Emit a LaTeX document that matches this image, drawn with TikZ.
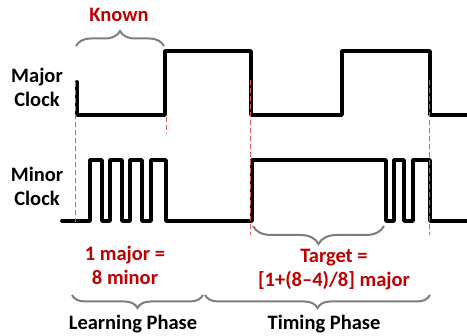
\documentclass[tikz,border=0pt]{standalone}
\usepackage{fontspec}
\setmainfont{Carlito}
\usetikzlibrary{decorations.pathreplacing}
\definecolor{accent}{RGB}{192,0,0}
\definecolor{guide}{RGB}{222,92,92}
\definecolor{bracegray}{RGB}{125,125,125}
\tikzset{
  signal/.style={line width=3.8pt, line join=round, line cap=round, black},
  guideline/.style={guide, line width=1pt, dash pattern=on 5pt off 3pt},
  phasebrace/.style={bracegray, line width=2pt, decorate,
    decoration={brace, amplitude=#1, aspect=0.5}},
  label/.style={font=\fontsize{20.5}{24.5}\selectfont\bfseries, inner sep=0pt, align=center, anchor=base},
  redlabel/.style={label, text=accent}
}
\begin{document}
\begin{tikzpicture}[x=1pt, y=-1pt]
\useasboundingbox (0,0) rectangle (467,336);

% major clock waveform
\draw[signal] (77,82) -- (77,115) -- (165,115) -- (165,51) -- (251,51) -- (251,115)
  -- (342,115) -- (342,51) -- (430,51) -- (430,115) -- (470,115);

% minor clock waveform
\draw[signal] (62,221) -- (90,221) -- (90,160) -- (102,160) -- (102,221)
  -- (110,221) -- (110,160) -- (122,160) -- (122,221)
  -- (130,221) -- (130,160) -- (142,160) -- (142,221)
  -- (151,221) -- (151,160) -- (166,160) -- (166,221)
  -- (252,221) -- (252,160) -- (386,160) -- (386,221)
  -- (394,221) -- (394,160) -- (404,160) -- (404,221)
  -- (413,221) -- (413,160) -- (430,160) -- (430,221) -- (470,221);

% alignment guides
\coordinate (g1a) at (75,82);   \coordinate (g1b) at (75,222);
\coordinate (g2a) at (166,117); \coordinate (g2b) at (166,134);
\coordinate (g3a) at (250,80);  \coordinate (g3b) at (250,235);
\coordinate (g4a) at (429,80);  \coordinate (g4b) at (429,235);
\draw[guideline] (g1a) -- (g1b);
\draw[guideline] (g2a) -- (g2b);
\draw[guideline] (g3a) -- (g3b);
\draw[guideline] (g4a) -- (g4b);

% braces
\coordinate (kn1) at (76,46);   \coordinate (kn2) at (164,46);
\coordinate (tg1) at (384,226); \coordinate (tg2) at (253,226);
\coordinate (lp1) at (203,295); \coordinate (lp2) at (72,295);
\coordinate (tp1) at (430,295); \coordinate (tp2) at (205,295);
\draw[phasebrace=15pt] (kn1) -- (kn2);
\draw[phasebrace=18pt] (tg1) -- (tg2);
\draw[phasebrace=13pt] (lp1) -- (lp2);
\draw[phasebrace=13pt] (tp1) -- (tp2);

% labels (base anchor sits on the last line of a two-line label)
\node[redlabel] (known) at (119,22) {Known};
\node[label] (major) at (37,107) {Major\\Clock};
\node[label] (minor) at (37,206) {Minor\\Clock};
\node[redlabel] (ratio) at (125,285) {1 major =\\8 minor};
\node[redlabel] (target) at (334,287) {Target =\\{[1+(8–4)/8] major}};
\node[label] (learn) at (133,330) {Learning Phase};
\node[label] (timing) at (324,330) {Timing Phase};
\end{tikzpicture}
\end{document}
